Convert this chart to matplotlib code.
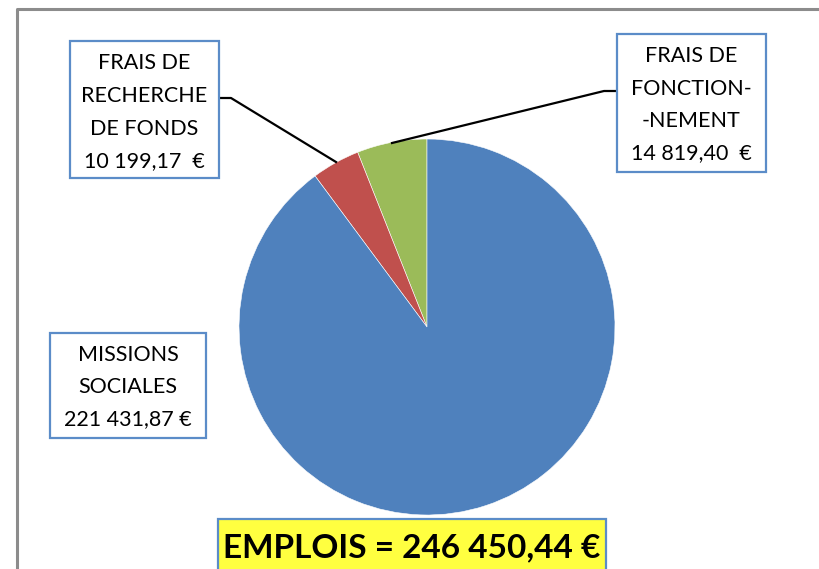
import matplotlib
matplotlib.use("Agg")
import matplotlib.pyplot as plt
from matplotlib.patches import Rectangle

# data
labels = ["FRAIS DE\nFONCTION-\n-NEMENT", "FRAIS DE\nRECHERCHE\nDE FONDS", "MISSIONS\nSOCIALES"]
values = [14819.40, 10199.17, 221431.87]
value_texts = ["14 819,40  €", "10 199,17  €", "221 431,87 €"]
colors = ["#9BBB59", "#C0504D", "#4F81BD"]
total_text = "EMPLOIS = 246 450,44 €"

W, H = 820, 569
plt.rcParams['font.family'] = ['Lato', 'DejaVu Sans']

fig = plt.figure(figsize=(W / 100, H / 100), dpi=100)
ax = fig.add_axes([0, 0, 1, 1])


def Y(py):
	# pixel row (from top) -> data y
	return H - py


# outer frame (top and left edges only are visible)
ax.plot([17, 17, W], [Y(H), Y(9), Y(9)], color="#8c8c8c", lw=2.2, solid_capstyle="butt")

# pie
ax.pie(values, colors=colors, startangle=90, counterclock=True,
	center=(427, Y(327)), radius=188, frame=True,
	wedgeprops=dict(edgecolor="white", linewidth=0.4))
ax.set_xlim(0, W)
ax.set_ylim(0, H)
ax.set_aspect("equal")
ax.axis("off")

box_col = "#5B8CC8"


def label_box(x0, y0, x1, y1, text, lines_y):
	ax.add_patch(Rectangle((x0, Y(y1)), x1 - x0, y1 - y0, facecolor="white",
		edgecolor=box_col, lw=1.6, zorder=3))
	cx = (x0 + x1) / 2
	for t, ly in zip(text.split("\n"), lines_y):
		ax.text(cx, Y(ly), t, ha="center", va="center", fontsize=15.5,
			color="black", zorder=4)


# leader lines
ax.plot([219, 231, 336], [Y(98), Y(98), Y(162)], color="black", lw=1.6, zorder=2)
ax.plot([617, 604, 392], [Y(91), Y(91), Y(143)], color="black", lw=1.6, zorder=2)

label_box(617, 34, 766, 172, labels[0] + "\n" + value_texts[0], [56, 89, 121, 153])
label_box(70, 41, 219, 178, labels[1] + "\n" + value_texts[1], [63, 96, 129, 161])
label_box(50, 333, 206, 438, labels[2] + "\n" + value_texts[2], [355, 387, 419])

# total box
ax.add_patch(Rectangle((218, Y(575)), 388, 575 - 519, facecolor="#FFFF40",
	edgecolor=box_col, lw=1.6, zorder=3))
ax.text(412, Y(548), total_text, ha="center", va="center", fontsize=24,
	fontweight="bold", color="black", zorder=4)

fig.savefig("out.png", dpi=100)
